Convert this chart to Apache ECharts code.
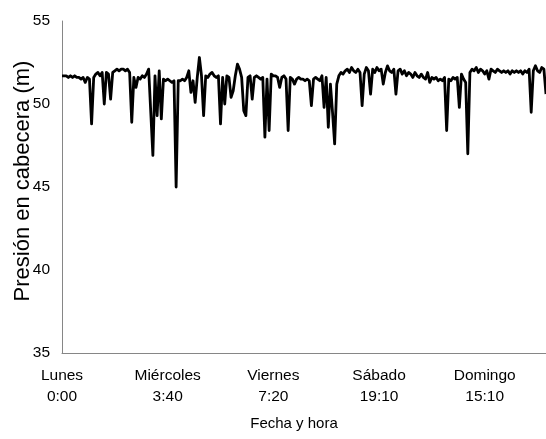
<!DOCTYPE html>
<html>
<head>
<meta charset="utf-8">
<script src="https://cdn.jsdelivr.net/npm/echarts@6/dist/echarts.min.js"></script>
<style>html,body{margin:0;padding:0;background:#fff}#c{width:546px;height:439px}</style>
</head>
<body>
<div id="c"></div>
<script>
// Tick labels shown every 50 samples along the category axis
var tickLabels = ['Lunes\n0:00', 'Miércoles\n3:40', 'Viernes\n7:20', 'Sábado\n19:10', 'Domingo\n15:10'];
var labelEvery = 50;
var yTicks = [35, 40, 45, 50, 55];

// Presión en cabecera (m)
var presion = [
  51.7, 51.7, 51.7, 51.6, 51.7, 51.6, 51.7, 51.6, 51.6, 51.5,
  51.6, 51.3, 51.6, 51.5, 48.8, 51.6, 51.8, 51.9, 51.7, 51.9,
  50.0, 51.9, 51.8, 50.3, 51.9, 52.0, 52.1, 52.0, 52.1, 52.1,
  52.0, 52.1, 51.9, 48.9, 51.6, 51.0, 51.6, 51.5, 51.7, 51.6,
  51.8, 52.1, 49.5, 46.9, 51.7, 49.3, 52.0, 49.1, 51.5, 51.4,
  51.5, 51.4, 51.3, 51.4, 45.0, 51.4, 51.4, 51.5, 51.4, 51.6,
  52.0, 50.7, 51.4, 50.1, 51.6, 52.8, 51.7, 49.3, 51.7, 51.6,
  51.8, 51.9, 51.7, 51.6, 51.7, 48.8, 51.6, 50.0, 51.7, 51.6,
  50.4, 50.8, 51.7, 52.4, 52.1, 51.6, 49.6, 49.3, 51.6, 51.7,
  50.3, 51.6, 51.7, 51.6, 51.5, 51.6, 48.0, 51.5, 48.4, 51.8,
  51.7, 51.7, 51.6, 51.0, 51.6, 51.7, 51.5, 48.4, 51.6, 51.5,
  51.2, 51.5, 51.6, 51.5, 51.5, 51.4, 51.5, 51.4, 49.9, 51.5,
  51.6, 51.5, 51.4, 51.7, 49.8, 51.6, 48.6, 51.2, 49.5, 47.6,
  51.2, 51.7, 51.9, 51.8, 52.0, 52.1, 51.9, 52.2, 52.0, 51.9,
  52.1, 51.9, 49.9, 51.8, 52.2, 52.0, 50.6, 52.1, 51.9, 52.2,
  52.0, 52.1, 51.2, 51.9, 52.3, 52.0, 51.9, 52.1, 50.6, 52.0,
  52.1, 51.8, 52.0, 51.7, 51.9, 51.8, 51.6, 51.9, 51.7, 51.6,
  51.8, 51.6, 51.5, 51.9, 51.3, 51.6, 51.5, 51.6, 51.4, 51.5,
  51.4, 51.6, 48.4, 51.5, 51.4, 51.6, 51.5, 51.6, 49.8, 51.8,
  51.5, 51.3, 47.0, 51.9, 52.1, 52.0, 52.2, 51.9, 52.1, 52.0,
  51.8, 52.0, 51.5, 52.1, 52.0, 51.9, 52.1, 52.0, 51.9, 52.0,
  51.9, 52.0, 51.8, 52.0, 51.9, 52.0, 51.9, 52.0, 51.8, 52.0,
  51.9, 52.1, 49.5, 52.0, 52.3, 52.0, 51.9, 52.2, 52.1, 50.6
];

var categories = presion.map(function (v, i) { return String(i); });

var sans = "'Liberation Sans', Arial, sans-serif";
var chart = echarts.init(document.getElementById('c'), null, { renderer: 'canvas' });
chart.setOption({
  animation: false,
  backgroundColor: '#fff',
  grid: { left: 62, right: 0, top: 21, bottom: 86, containLabel: false, outerBoundsMode: 'none' },
  xAxis: {
    type: 'category',
    data: categories,
    boundaryGap: false,
    name: 'Fecha y hora',
    nameLocation: 'middle',
    nameGap: 63,
    nameMoveOverlap: false,
    nameTextStyle: { fontFamily: sans, fontSize: 15, color: '#000', padding: [0, 20, 0, 0] },
    axisLine: { lineStyle: { color: '#868686', width: 1 } },
    axisTick: { show: false },
    axisLabel: {
      interval: labelEvery - 1,
      margin: 12,
      fontFamily: sans, fontSize: 15.5, lineHeight: 21, color: '#000',
      formatter: function (v, idx) {
        var k = idx / labelEvery;
        return (idx % labelEvery === 0 && tickLabels[k]) ? tickLabels[k] : '';
      }
    },
    splitLine: { show: false }
  },
  yAxis: {
    type: 'value',
    min: yTicks[0], max: yTicks[yTicks.length - 1], interval: 5,
    name: 'Presión en cabecera (m)',
    nameLocation: 'middle',
    nameGap: 28,
    nameMoveOverlap: false,
    nameRotate: 90,
    nameTextStyle: { fontFamily: sans, fontSize: 22, color: '#000', padding: [0, 0, 0, 12] },
    axisLine: { show: true, lineStyle: { color: '#868686', width: 1 } },
    axisTick: { show: false },
    axisLabel: { margin: 12, fontFamily: sans, fontSize: 15.5, color: '#000' },
    splitLine: { show: false }
  },
  series: [{
    type: 'line',
    data: presion,
    symbol: 'none',
    lineStyle: { color: '#000', width: 2.8, join: 'round' },
    clip: false
  }]
});
</script>
</body>
</html>
